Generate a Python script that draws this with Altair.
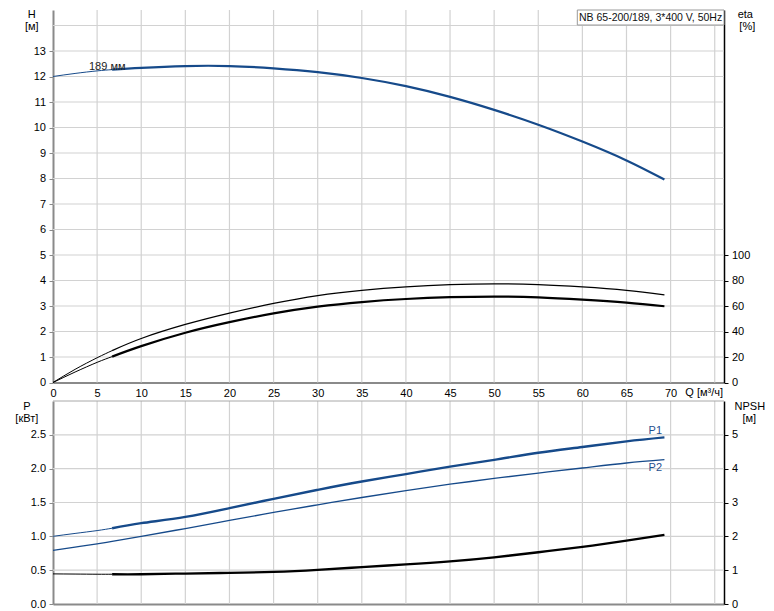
import altair as alt
import pandas as pd

# ---------------- data ----------------
Q = [0, 2.5, 5, 6.7, 10, 15, 20, 25, 30, 35, 40, 45, 50, 55, 60, 65, 69.3]
H = [12.0, 12.12, 12.22, 12.27, 12.34, 12.41, 12.41, 12.32, 12.17, 11.94,
     11.62, 11.20, 10.69, 10.11, 9.45, 8.71, 7.96]
ETA_PUMP = [0, 10.3, 19.4, 25.0, 34.5, 45.5, 54.4, 62.0, 68.2, 72.3, 75.0,
            76.7, 77.4, 76.8, 75.0, 72.3, 68.8]
ETA_TOTAL = [0, 8.2, 15.8, 20.3, 28.5, 39.0, 47.3, 54.2, 59.5, 63.1, 65.5,
             66.9, 67.4, 66.8, 65.0, 62.6, 59.8]
P1 = [1.0, 1.043, 1.085, 1.12, 1.195, 1.287, 1.416, 1.554, 1.687, 1.81, 1.92,
      2.03, 2.13, 2.235, 2.32, 2.404, 2.463]
P2 = [0.793, 0.84, 0.89, 0.925, 1.0, 1.115, 1.235, 1.353, 1.466, 1.574, 1.676,
      1.77, 1.855, 1.935, 2.01, 2.084, 2.133]
NPSH = [0.89, 0.885, 0.88, 0.88, 0.88, 0.90, 0.92, 0.95, 1.01, 1.09, 1.17,
        1.26, 1.38, 1.53, 1.69, 1.87, 2.04]
Q_MIN = 6.7  # start of the bold (recommended) part of each curve

X_TICKS = [0, 5, 10, 15, 20, 25, 30, 35, 40, 45, 50, 55, 60, 65, 70]
X_GRID = [5, 10, 15, 20, 25, 30, 35, 40, 45, 50, 55, 60, 65, 70, 75]
H_TICKS = [0, 1, 2, 3, 4, 5, 6, 7, 8, 9, 10, 11, 12, 13]
H_GRID = [1, 2, 3, 4, 5, 6, 7, 8, 9, 10, 11, 12, 13, 14]
ETA_TICKS = [0, 20, 40, 60, 80, 100]
P_TICKS = [0.0, 0.5, 1.0, 1.5, 2.0, 2.5]
P_GRID = [0.5, 1.0, 1.5, 2.0, 2.5]
NPSH_TICKS = [0, 1, 2, 3, 4, 5]

TITLE = "NB 65-200/189, 3*400 V, 50Hz"

# ---------------- styling / layout ----------------
FONT = "Liberation Sans"
BLUE = "#164a8a"
GRID = "#d2d2d2"
AXIS_GRAY = "#8a8a8a"
INTERP = "natural"

W = 671
X_MAX = W / 8.823
H_TOP = 372.5
H_MAX = H_TOP / 25.5
ETA_MAX = H_MAX * 20
H_BOT = 203
P_MAX = 3.0
NPSH_MAX = 6.0

df = pd.DataFrame({"Q": Q, "H": H, "eta1": ETA_PUMP, "eta2": ETA_TOTAL,
                   "P1": P1, "P2": P2, "NPSH": NPSH})
thin = df[df.Q <= Q_MIN]
thick = df[df.Q >= Q_MIN]

xs = alt.Scale(domain=[0, X_MAX], nice=False, zero=False)

common_lbl = dict(labelFont=FONT, labelFontSize=11, labelColor="#000",
                  labelOverlap=False, title=None, grid=False)

X_AXIS_TOP = alt.Axis(orient="bottom", values=X_TICKS, ticks=False,
                      domainColor=AXIS_GRAY, domainWidth=2, labelPadding=5,
                      labelFlush=False, **common_lbl)
X_AXIS_BOT = alt.Axis(orient="bottom", labels=False, ticks=False,
                      domainColor=AXIS_GRAY, domainWidth=2, title=None, grid=False)
H_AXIS = alt.Axis(orient="left", values=H_TICKS, domainColor=AXIS_GRAY,
                  domainWidth=2, tickColor=AXIS_GRAY, tickSize=4,
                  labelPadding=3.5, **common_lbl)
ETA_AXIS = alt.Axis(orient="right", values=ETA_TICKS, domainColor="#000",
                    domainWidth=1.5, tickColor="#000", tickSize=4,
                    labelPadding=3.4, **common_lbl)
P_AXIS = alt.Axis(orient="left", values=P_TICKS, format=".1f",
                  domainColor=AXIS_GRAY, domainWidth=2, tickColor=AXIS_GRAY,
                  tickSize=4, labelPadding=3.5, **common_lbl)
NPSH_AXIS = alt.Axis(orient="right", values=NPSH_TICKS, domainColor="#000",
                     domainWidth=1.5, tickColor="#000", tickSize=4,
                     labelPadding=3.4, **common_lbl)


def label(text, x, y, size=11, color="#000", align="center"):
    return alt.Chart(pd.DataFrame({"t": [text]})).mark_text(
        font=FONT, fontSize=size, color=color, align=align, baseline="middle"
    ).encode(x=alt.value(x), y=alt.value(y), text="t:N")


def curve(data, field, scale, axis, x_axis, color, width):
    return alt.Chart(data).mark_line(
        color=color, strokeWidth=width, interpolate=INTERP
    ).encode(x=alt.X("Q:Q", scale=xs, axis=x_axis),
             y=alt.Y(f"{field}:Q", scale=scale, axis=axis))


# ---------------- top panel: H and eta ----------------
hs = alt.Scale(domain=[0, H_MAX], nice=False, zero=False)
es = alt.Scale(domain=[0, ETA_MAX], nice=False, zero=False)

vgrid_t = alt.Chart(pd.DataFrame({"Q": X_GRID})).mark_rule(
    color=GRID, strokeWidth=1.2).encode(x=alt.X("Q:Q", scale=xs, axis=X_AXIS_TOP))
hgrid_t = alt.Chart(pd.DataFrame({"H": H_GRID})).mark_rule(
    color=GRID, strokeWidth=1.2).encode(y=alt.Y("H:Q", scale=hs, axis=H_AXIS))

box = alt.Chart(pd.DataFrame({"t": [0]})).mark_rect(
    fill="white", stroke="#999999", strokeWidth=1
).encode(x=alt.value(524.3), x2=alt.value(671), y=alt.value(0), y2=alt.value(15))

white_edge = alt.Chart(pd.DataFrame({"t": [0]})).mark_rule(
    color="white", strokeWidth=1
).encode(x=alt.value(-43.2), x2=alt.value(-43.2), y=alt.value(200), y2=alt.value(201))

top_left = alt.layer(
    vgrid_t, hgrid_t,
    curve(thin, "H", hs, H_AXIS, X_AXIS_TOP, BLUE, 1),
    curve(thick, "H", hs, H_AXIS, X_AXIS_TOP, BLUE, 2.2),
    box,
    label(TITLE, 597.6, 7.5, size=10.5, color="#111"),
    label("189 мм", 36, 56.5, color="#222", align="left"),
    label("H", -21.2, 5),
    label("[м]", -21.2, 17),
    label("eta", 692.3, 5),
    label("[%]", 694.3, 16.7),
    label("Q [м³/ч]", 632.3, 382.5, align="left"),
    white_edge,
)
top_right = alt.layer(
    curve(thin, "eta1", es, ETA_AXIS, X_AXIS_TOP, "#000", 1),
    curve(thick, "eta1", es, ETA_AXIS, X_AXIS_TOP, "#000", 1.3),
    curve(thin, "eta2", es, ETA_AXIS, X_AXIS_TOP, "#000", 1),
    curve(thick, "eta2", es, ETA_AXIS, X_AXIS_TOP, "#000", 2.2),
)
top = alt.layer(top_left, top_right).resolve_scale(y="independent").properties(
    width=W, height=H_TOP)

# ---------------- bottom panel: P and NPSH ----------------
ps = alt.Scale(domain=[0, P_MAX], nice=False, zero=False)
ns = alt.Scale(domain=[0, NPSH_MAX], nice=False, zero=False)

vgrid_b = alt.Chart(pd.DataFrame({"Q": X_GRID})).mark_rule(
    color=GRID, strokeWidth=1.2).encode(x=alt.X("Q:Q", scale=xs, axis=X_AXIS_BOT))
hgrid_b = alt.Chart(pd.DataFrame({"P1": P_GRID})).mark_rule(
    color=GRID, strokeWidth=1.2).encode(y=alt.Y("P1:Q", scale=ps, axis=P_AXIS))
top_border = alt.Chart(pd.DataFrame({"t": [0]})).mark_rule(
    color="#a8a8a8", strokeWidth=1
).encode(x=alt.value(0), x2=alt.value(W), y=alt.value(0))

bot_left = alt.layer(
    vgrid_b, hgrid_b, top_border,
    curve(thin, "P1", ps, P_AXIS, X_AXIS_BOT, BLUE, 1),
    curve(thick, "P1", ps, P_AXIS, X_AXIS_BOT, BLUE, 2.4),
    curve(df, "P2", ps, P_AXIS, X_AXIS_BOT, BLUE, 1.3),
    label("P", -26.2, 5.5),
    label("[кВт]", -26.2, 18),
    label("NPSH", 696.8, 5.5),
    label("[м]", 696.3, 17.5),
    label("P1", 602.3, 29.8, color="#1f5090"),
    label("P2", 602.3, 66.5, color="#1f5090"),
)
bot_right = alt.layer(
    curve(thin, "NPSH", ns, NPSH_AXIS, X_AXIS_BOT, "#000", 1),
    curve(thick, "NPSH", ns, NPSH_AXIS, X_AXIS_BOT, "#000", 2.3),
)
bottom = alt.layer(bot_left, bot_right).resolve_scale(y="independent").properties(
    width=W, height=H_BOT)

chart = alt.vconcat(top, bottom, spacing=18, bounds="flush").properties(
    padding=0, background="white"
).configure_view(stroke="transparent")

chart.save("out.html", embed_options={"renderer": "svg", "actions": False})
